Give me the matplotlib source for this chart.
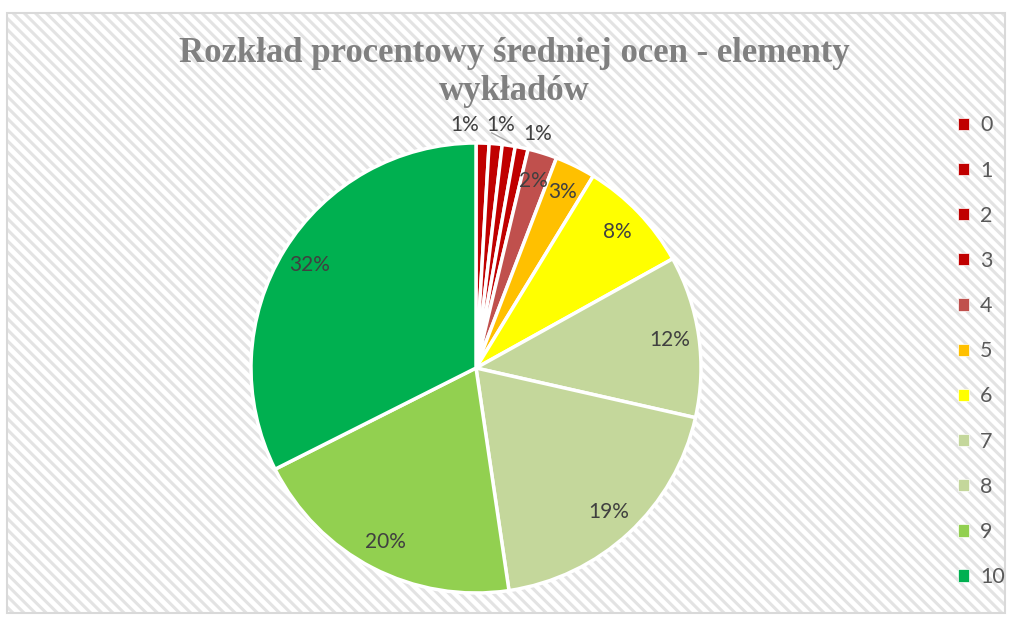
"""plot.py

    Pie chart of averaged grades - lecture elements.

    """
import numpy as np
import matplotlib
matplotlib.use("Agg")
import matplotlib.pyplot as plt
from matplotlib.patches import Rectangle, Patch

# data (percent shares)
grades = ["0", "1", "2", "3", "4", "5", "6", "7", "8", "9", "10"]
shares = [0.93, 0.93, 0.93, 0.93, 2.1, 2.9, 8.2, 11.6, 19.1, 19.9, 32.4]
colors = ["#C00000", "#C00000", "#C00000", "#C00000", "#C0504D", "#FFC000",
          "#FFFF00", "#C4D79B", "#C4D79B", "#92D050", "#00B050"]
title = "Rozkład procentowy średniej ocen - elementy\nwykładów"

plt.rcParams["hatch.linewidth"] = 2.2

W, H = 1013, 617
fig = plt.figure(figsize=(W / 100, H / 100), dpi=100)

# hatched chart area with thin border
bg = Rectangle((7 / W, 1 - 613 / H), 998 / W, 600 / H, transform=fig.transFigure,
               facecolor="white", edgecolor="#E3E3E3", hatch="\\\\\\", lw=0, zorder=-2)
fig.patches.append(bg)
border = Rectangle((7 / W, 1 - 613 / H), 998 / W, 600 / H, transform=fig.transFigure,
                   facecolor="none", edgecolor="#D9D9D9", lw=1.5, zorder=-1)
fig.patches.append(border)

# pie axes: center (476, 368), radius 225 px
cx, cy, r = 476, 368, 225
ax = fig.add_axes([(cx - r) / W, (H - cy - r) / H, 2 * r / W, 2 * r / H])
ax.set_zorder(2)
ax.set_facecolor("none")

wedges, texts, autotexts = ax.pie(
    shares, colors=colors, startangle=90, counterclock=False,
    autopct="%1.0f%%", pctdistance=0.87,
    wedgeprops=dict(edgecolor="white", linewidth=2.5),
    textprops=dict(color="#404040", fontsize=15, family="Lato"))
ax.set_xlim(-1, 1)
ax.set_ylim(-1, 1)
ax.set_aspect("auto")
ax.axis("off")

# small slices: labels pushed outside, one hidden (as in the original)
outside = {0: (-0.05, 1.08), 1: (0.11, 1.08), 3: (0.276, 1.04)}
for i in range(4):
    if i in outside:
        autotexts[i].set_position(outside[i])
    else:
        autotexts[i].set_visible(False)
ax.plot([0.07, 0.156], [1.045, 1.0], color="#A6A6A6", lw=1, clip_on=False)

fig.text(514 / W, 1 - 73 / H, title, ha="center", va="center",
         fontsize=25, fontweight="bold", color="#808080", family="Liberation Serif",
         linespacing=1.2)

handles = [Patch(facecolor=c, edgecolor="white", lw=0.5) for c in colors]
leg = fig.legend(handles, grades, loc="upper left", bbox_to_anchor=(939 / W, 1 - 96 / H),
                 frameon=False, handlelength=0.5, handleheight=0.5, handletextpad=0.5,
                 labelspacing=1.17, prop=dict(family="Lato", size=15.5))
for t in leg.get_texts():
    t.set_color("#595959")

fig.savefig("out.png", dpi=100)
